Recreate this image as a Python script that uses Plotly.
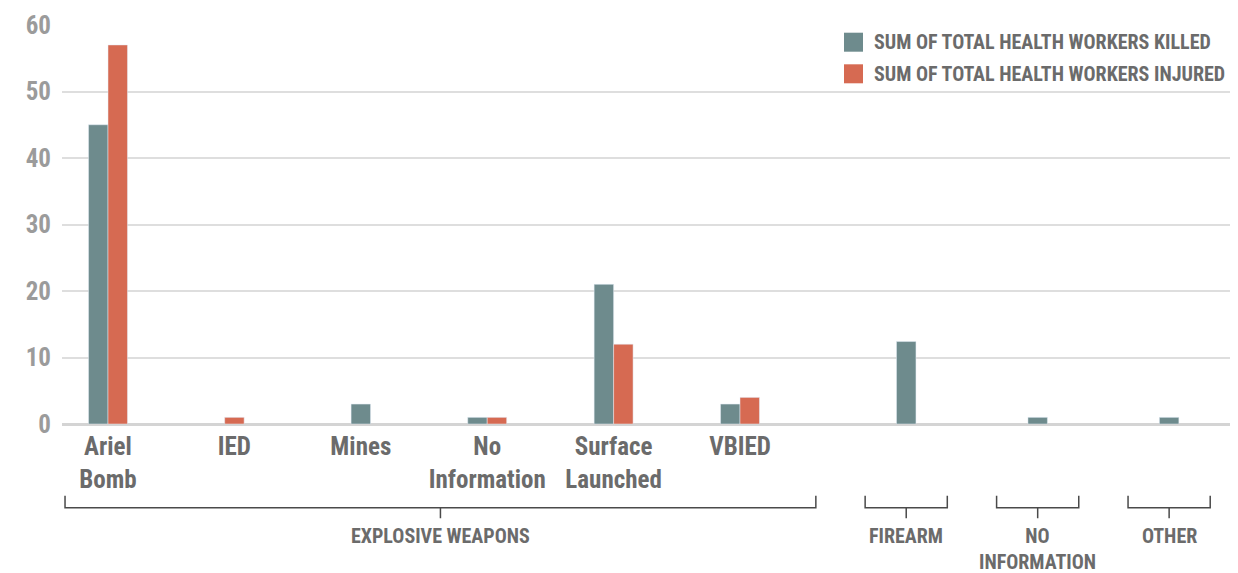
import plotly.graph_objects as go

# ---------------- data ----------------
groups = ["EXPLOSIVE WEAPONS", "FIREARM", "NO<br>INFORMATION", "OTHER"]
subcategories = [
    ["Ariel<br>Bomb", "IED", "Mines", "No<br>Information", "Surface<br>Launched", "VBIED"],
    [""],
    [""],
    [""],
]
killed = [45, 0, 3, 1, 21, 3, 12.4, 1, 1]
injured = [57, 1, 0, 1, 12, 4, 0, 0, 0]
series_names = ["SUM OF TOTAL HEALTH WORKERS KILLED", "SUM OF TOTAL HEALTH WORKERS INJURED"]
y_ticks = [0, 10, 20, 30, 40, 50, 60]

# ---------------- style ----------------
TEAL = "#6e8b8d"
RED = "#d66a52"
FONT = "Roboto Condensed, Liberation Sans Narrow, sans-serif"
LABEL_COLOR = "#6b6b6b"
TICK_COLOR = "#9b9b9b"
BW = 0.154            # bar width (category units)
PAD_L, PAD_R = 0.34, 0.60   # bracket padding for multi-sub groups
SINGLE_SPAN = 0.65    # bracket span for single groups
GAP = 0.39            # gap between brackets

# page body has an 8px margin: figure is placed at (8, 8) in the window
OFF = 8
W, H = 1238 - OFF, 573 - OFF
ML, MR, MT, MB = 62 - OFF, 2, 25 - OFF, 149
PLOT_W = W - ML - MR
PLOT_H = H - MT - MB

# ---------------- layout of categories ----------------
centers, sub_labels, brackets = [], [], []
cursor = -PAD_L
for g, subs in zip(groups, subcategories):
    left = cursor
    if len(subs) > 1:
        cs = [left + PAD_L + j for j in range(len(subs))]
        right = cs[-1] + PAD_R
    else:
        cs = [left + SINGLE_SPAN / 2]
        right = left + SINGLE_SPAN
    centers += cs
    sub_labels += subs
    brackets.append((g, left, right))
    cursor = right + GAP

def nz(v):
    return [x if x else None for x in v]

off_k = [-BW if i else -BW / 2 for i in injured]
off_i = [0 if k else -BW / 2 for k in killed]

fig = go.Figure()
fig.add_trace(go.Bar(x=centers, y=nz(killed), name=series_names[0], marker_color=TEAL,
                     width=BW, offset=off_k, showlegend=False))
fig.add_trace(go.Bar(x=centers, y=nz(injured), name=series_names[1], marker_color=RED,
                     width=BW, offset=off_i, showlegend=False))

tick_pos = [c for c, s in zip(centers, sub_labels) if s]
tick_txt = [s for s in sub_labels if s]

def py(p):  # window pixel y -> paper y
    return (MT + PLOT_H - (p - OFF)) / PLOT_H

def px(p):  # window pixel x -> paper x
    return ((p - OFF) - ML) / PLOT_W

shapes, annotations = [], []
for g, l, r in brackets:
    c = (l + r) / 2
    yt, yh, yd = py(495.7), py(507.7), py(518.3)
    shapes.append(dict(type="path", xref="x", yref="paper",
                       path=f"M {l},{yt} L {l},{yh} L {r},{yh} L {r},{yt} M {c},{yh} L {c},{yd}",
                       line=dict(color="#4a4a4a", width=1.5)))
    annotations.append(dict(x=c, y=py(523), xref="x", yref="paper", text=g, showarrow=False,
                            xanchor="center", yanchor="top", borderpad=0,
                            font=dict(family=FONT, size=20, color=LABEL_COLOR, weight="bold")))

# custom legend
for (name, col, top) in [(series_names[0], TEAL, 32.7), (series_names[1], RED, 64.3)]:
    shapes.append(dict(type="rect", xref="paper", yref="paper", x0=px(844), x1=px(863),
                       y0=py(top + 19), y1=py(top), fillcolor=col, line=dict(width=0)))
    annotations.append(dict(x=px(872), y=py(top + 9.5), xref="paper", yref="paper", text=name,
                            showarrow=False, xanchor="left", yanchor="middle",
                            font=dict(family=FONT, size=20, color=LABEL_COLOR, weight="bold")))

fig.update_layout(
    width=W, height=H,
    margin=dict(l=ML, r=MR, t=MT, b=MB, autoexpand=False),
    paper_bgcolor="white", plot_bgcolor="white",
    barmode="overlay",
    shapes=shapes, annotations=annotations,
    xaxis=dict(range=[-0.364, 8.924], tickvals=tick_pos, ticktext=tick_txt, tickangle=0,
               showgrid=False, zeroline=False, showline=False, ticks="", ticklabelstandoff=5,
               tickfont=dict(family=FONT, size=25, color=LABEL_COLOR, weight="bold")),
    yaxis=dict(range=[0, 60], tickvals=y_ticks, showgrid=True, gridcolor="#dedede",
               gridwidth=1.5, zeroline=True, zerolinecolor="#d4d4d4", zerolinewidth=2.5,
               showline=False, ticks="", ticklabelstandoff=10,
               tickfont=dict(family=FONT, size=25, color=TICK_COLOR, weight="bold")),
)

fig.write_html("out.html")
